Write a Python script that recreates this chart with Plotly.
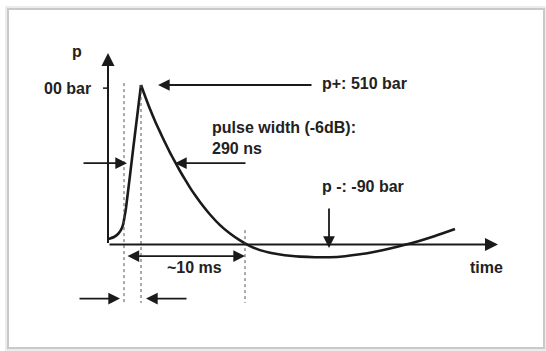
import plotly.graph_objects as go

# ---- data (schematic pressure pulse; time in arbitrary units, pressure in bar) ----
rise_t = [0.0, 0.2, 0.6, 1.0, 1.3, 1.5, 1.65, 1.8, 2.55, 3.3]
rise_p = [17.6, 19.2, 24, 33.6, 46.4, 62.4, 87.9, 116.7, 315, 510]

decay_t = [3.3, 3.7, 4.2, 4.7, 5.2, 5.7, 6.2, 6.7, 7.2, 7.7, 8.2, 8.7, 9.2, 10.2,
           11.2, 12.2, 13.2, 14.2, 15.2, 16.2, 17.2, 18.2, 19.2, 20.7, 22.2, 23.7,
           25.2, 26.7, 28.2, 29.7, 31.2, 32.7, 34.7]
decay_p = [510, 475, 433, 395, 360, 326, 294, 264, 235, 208, 182, 158, 136, 96,
           62, 35, 13, -5, -18, -26.5, -32, -36, -38.7, -40.6, -40.6, -37.4,
           -31.3, -23, -12.8, -1, 12.2, 27.2, 49.6]

peak_p = 510            # p+ : 510 bar
tick_p = 500            # axis tick ("00 bar")
half_p = 260            # -6 dB level
pulse_t = [1.6, 3.3]    # rise start / peak (dotted markers)
ten_ms_t = 13.7         # end of ~10 ms span
neg_t = 22.1            # position of p- minimum marker
y_axis_top = 612
x_axis_end = 39

labels = {
    "p": "p", "tick": "00 bar", "pplus": "p+: 510 bar",
    "pw": "pulse width (-6dB):<br>290 ns", "pminus": "p -: -90 bar",
    "span": "~10 ms", "time": "time",
}

# ---- layout mapping (pixel geometry of the canvas) ----
W, H = 546, 351
X0_PX, PX_PER_T = 108, 10.0
Y0_PX, PX_PER_P = 244.5, 159.5 / 510
x_range = [-X0_PX / PX_PER_T, (W - X0_PX) / PX_PER_T]
y_range = [(Y0_PX - H) / PX_PER_P, Y0_PX / PX_PER_P]

INK = "#1a1a1a"
FONT = "Liberation Sans, Arial, sans-serif"

fig = go.Figure()
fig.add_trace(go.Scatter(x=rise_t, y=rise_p, mode="lines",
                         line=dict(color=INK, width=2.6, shape="spline", smoothing=0.6),
                         hoverinfo="skip"))
fig.add_trace(go.Scatter(x=decay_t, y=decay_p, mode="lines",
                         line=dict(color=INK, width=2.6, shape="spline", smoothing=0.6),
                         hoverinfo="skip"))

shapes = []
# dotted vertical markers
bottom_p = -187
for t, top in [(pulse_t[0], 516), (pulse_t[1], peak_p), (ten_ms_t, 46)]:
    shapes.append(dict(type="line", x0=t, x1=t, y0=top, y1=bottom_p,
                       line=dict(color="#555", width=1, dash="dot")))
# tick
shapes.append(dict(type="line", x0=-0.5, x1=0, y0=tick_p, y1=tick_p,
                   line=dict(color=INK, width=1.5)))
# frame
shapes.append(dict(type="rect", xref="paper", yref="paper",
                   x0=8 / W, x1=544 / W, y0=1 - 348 / H, y1=1 - 9 / H,
                   line=dict(color="#c9c9c9", width=2)))
shapes.append(dict(type="rect", xref="paper", yref="paper",
                   x0=6 / W, x1=546 / W, y0=1 - 350 / H, y1=1 - 7 / H,
                   line=dict(color="#ececec", width=2)))

ann = []


def arrow(x_tip, y_tip, x_tail, y_tail, both=False, w=1.8):
    ann.append(dict(x=x_tip, y=y_tip, ax=x_tail, ay=y_tail, xref="x", yref="y",
                    axref="x", ayref="y", text="", showarrow=True,
                    arrowhead=2, arrowsize=1.3, arrowwidth=w, arrowcolor=INK,
                    arrowside="end+start" if both else "end"))


# axes
arrow(0, y_axis_top, 0, 0, w=2)
arrow(x_axis_end, 0, 0, 0, w=2)
# p+ arrow
arrow(5.0, peak_p, 20.5, peak_p)
# pulse width arrows
arrow(1.9, half_p, -2.6, half_p)
arrow(6.7, half_p, 13.9, half_p)
# ~10 ms span
arrow(ten_ms_t, -37, pulse_t[0] + 0.2, -37, both=True)
# bottom rise-time arrows
arrow(1.2, -173, -3.0, -173)
arrow(3.8, -173, 8.0, -173)
# p- arrow
arrow(neg_t, -11, neg_t, 120)


def text(x, y, s, xanchor="left"):
    ann.append(dict(x=x, y=y, xref="x", yref="y", text="<b>" + s + "</b>",
                    showarrow=False, xanchor=xanchor, yanchor="middle",
                    align="left", font=dict(family=FONT, size=16, color="#222")))


text(-3.1, 616, labels["p"], xanchor="center")
text(-1.5, tick_p, labels["tick"], xanchor="right")
text(21.2, peak_p + 4, labels["pplus"])
text(10.2, 342, labels["pw"])
text(21.2, 187, labels["pminus"])
text(8.65, -72, labels["span"], xanchor="center")
text(36.0, -72, labels["time"])

fig.update_layout(
    width=W, height=H, margin=dict(l=0, r=0, t=0, b=0),
    paper_bgcolor="white", plot_bgcolor="white", showlegend=False,
    xaxis=dict(range=x_range, visible=False, fixedrange=True),
    yaxis=dict(range=y_range, visible=False, fixedrange=True),
    shapes=shapes, annotations=ann,
)
fig.write_html("out.html", config={"displayModeBar": False},
               post_script="document.body.style.margin='0';document.body.style.overflow='hidden';")
